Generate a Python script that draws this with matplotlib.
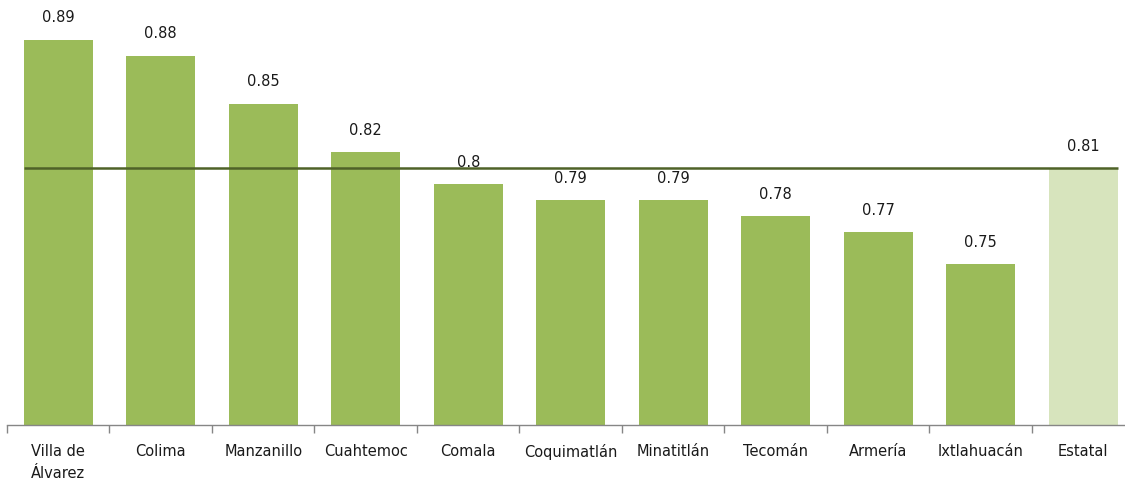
import matplotlib
matplotlib.use("Agg")
import matplotlib.pyplot as plt
import numpy as np

categories = ["Villa de\nÁlvarez", "Colima", "Manzanillo", "Cuahtemoc", "Comala",
              "Coquimatlán", "Minatitlán", "Tecomán", "Armería", "Ixtlahuacán", "Estatal"]
values = [0.89, 0.88, 0.85, 0.82, 0.80, 0.79, 0.79, 0.78, 0.77, 0.75, 0.81]
value_labels = ["0.89", "0.88", "0.85", "0.82", "0.8", "0.79", "0.79", "0.78", "0.77", "0.75", "0.81"]
reference_value = 0.81

W, H = 1125, 483
fig = plt.figure(figsize=(W / 100, H / 100), dpi=100)
left_px, base_px = 7, 425
ax = fig.add_axes([left_px / W, (H - base_px) / H, 1 - left_px / W, base_px / H])

x = np.arange(len(categories))
colors = ["#9BBB59"] * (len(categories) - 1) + ["#D7E4BD"]
bw = 0.67
ax.bar(x, values, width=bw, color=colors, zorder=2)

# reference line
ax.plot([x[0] - bw / 2, x[-1] + bw / 2], [reference_value, reference_value],
        color="#4F6228", lw=1.8, zorder=3, solid_capstyle="butt")

for xi, v, lab in zip(x, values, value_labels):
    ax.text(xi, v + 0.0137, lab, ha="center", va="center", fontsize=10.5,
            color="#1a1a1a", zorder=4)

for s in ["top", "right", "left"]:
    ax.spines[s].set_visible(False)
ax.spines["bottom"].set_color("#868686")
ax.spines["bottom"].set_linewidth(1.0)
ax.set_yticks([])

ax.set_xticks(np.arange(len(categories) + 1) - 0.5, minor=False)
ax.set_xticklabels([])
ax.tick_params(axis="x", which="major", length=6, color="#868686", width=1.0)
ax.set_xticks(x, minor=True)
ax.set_xticklabels(categories, minor=True, fontsize=10.5, color="#1a1a1a", linespacing=1.55)
ax.tick_params(axis="x", which="minor", length=0, pad=14)

# limits set after ticks so they are not expanded
cat_w = 102.5
ax.set_xlim(-0.5, -0.5 + (W - left_px) / cat_w)
ax.set_ylim(0.65, 0.9147)

fig.savefig("out.png", dpi=100)
